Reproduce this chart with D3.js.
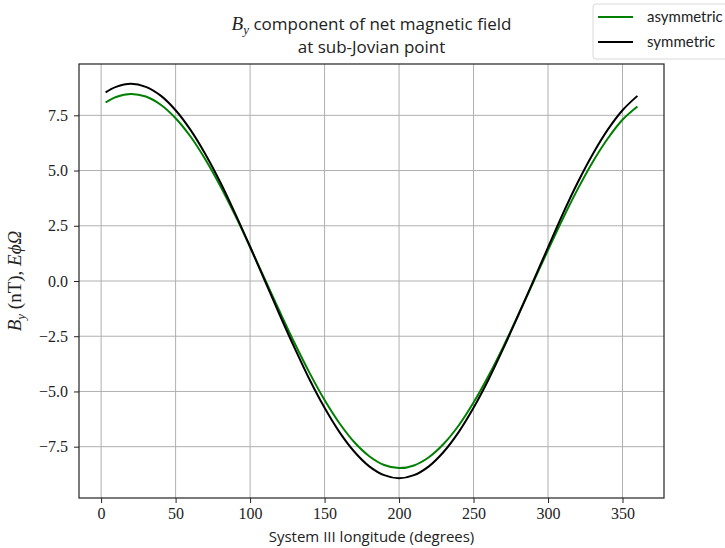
<!DOCTYPE html>
<html><head><meta charset="utf-8">
<script src="https://cdn.jsdelivr.net/npm/d3@7"></script>
<style>body{margin:0;background:#fff}svg{display:block}</style>
</head><body>
<svg id="c" width="725" height="548"></svg>
<script>
const longitudes = [3,10,20,30,40,50,60,70,80,90,100,110,120,130,140,150,160,170,180,190,200,210,220,230,240,250,260,270,280,290,300,310,320,330,340,350,360];
const asymmetric = [8.08,8.33,8.47,8.35,7.98,7.37,6.54,5.50,4.30,2.97,1.54,0.07,-1.40,-2.83,-4.17,-5.39,-6.44,-7.30,-7.93,-8.33,-8.47,-8.35,-7.98,-7.37,-6.54,-5.50,-4.30,-2.97,-1.54,-0.07,1.40,2.83,4.17,5.39,6.44,7.30,7.90];
const symmetric = [8.54,8.79,8.93,8.79,8.39,7.73,6.84,5.74,4.47,3.05,1.55,0.00,-1.55,-3.05,-4.47,-5.74,-6.84,-7.73,-8.39,-8.79,-8.93,-8.79,-8.39,-7.73,-6.84,-5.74,-4.47,-3.05,-1.55,-0.02,1.52,3.05,4.47,5.74,6.84,7.73,8.38];
const xTicks = [0,50,100,150,200,250,300,350];
const yTicks = [-7.5,-5.0,-2.5,0.0,2.5,5.0,7.5];
const seriesNames = ["asymmetric","symmetric"];
const seriesColors = ["#008000","#000000"];

const svg = d3.select("#c");
const L=79, R=664, T=64, B=498;
const xe = d3.extent(longitudes), xp=(xe[1]-xe[0])*0.05;
const ye = d3.extent(asymmetric.concat(symmetric)), yp=(ye[1]-ye[0])*0.05;
const x = d3.scaleLinear().domain([xe[0]-xp, xe[1]+xp]).range([L,R]);
const y = d3.scaleLinear().domain([ye[0]-yp, ye[1]+yp]).range([B,T]);

// grid
const g = svg.append("g");
g.selectAll(".vx").data(xTicks).join("line")
  .attr("x1",d=>x(d)).attr("x2",d=>x(d)).attr("y1",T).attr("y2",B)
  .attr("stroke","#b0b0b0").attr("stroke-width",1);
g.selectAll(".hy").data(yTicks).join("line")
  .attr("y1",d=>y(d)).attr("y2",d=>y(d)).attr("x1",L).attr("x2",R)
  .attr("stroke","#b0b0b0").attr("stroke-width",1);

// lines
const line = d3.line().x((d,i)=>x(longitudes[i])).y(d=>y(d)).curve(d3.curveCatmullRom.alpha(0.5));
[asymmetric, symmetric].forEach((s,k)=>{
  svg.append("path").datum(s).attr("d",line).attr("fill","none")
    .attr("stroke",seriesColors[k]).attr("stroke-width",2);
});

// axes
const fmt = d=> (d<0?"\u2212":"")+Math.abs(d).toFixed(1);
const xa = svg.append("g").attr("transform",`translate(0,${B})`)
  .call(d3.axisBottom(x).tickValues(xTicks).tickSize(5).tickPadding(5).tickFormat(d3.format("d")));
const ya = svg.append("g").attr("transform",`translate(${L},0)`)
  .call(d3.axisLeft(y).tickValues(yTicks).tickSize(5).tickPadding(6).tickFormat(fmt));
[xa,ya].forEach(a=>{
  a.select(".domain").remove();
  a.selectAll(".tick line").attr("stroke","#222").attr("stroke-width",1);
  a.selectAll(".tick text").attr("font-family","'Liberation Serif', 'DejaVu Serif', serif")
    .attr("font-size",16).attr("fill","#222");
});
svg.append("rect").attr("x",L).attr("y",T).attr("width",R-L).attr("height",B-T)
  .attr("fill","none").attr("stroke","#222").attr("stroke-width",1.2);

// title
const cx=(L+R)/2;
const sans = "'Open Sans', Lato, sans-serif";
const t1 = svg.append("text").attr("x",cx).attr("y",30).attr("text-anchor","middle")
  .attr("font-family",sans).attr("font-size",17).attr("fill","#222");
t1.append("tspan").attr("font-family","'Liberation Serif', serif").attr("font-style","italic").attr("font-size",19).text("B");
t1.append("tspan").attr("font-family","'Liberation Serif', serif").attr("font-style","italic").attr("font-size",13).attr("dy",4).text("y");
t1.append("tspan").attr("dy",-4).text(" component of net magnetic field");
svg.append("text").attr("x",cx).attr("y",53).attr("text-anchor","middle")
  .attr("font-family",sans).attr("font-size",17).attr("fill","#222")
  .text("at sub-Jovian point");

// x label
svg.append("text").attr("x",cx).attr("y",542).attr("text-anchor","middle")
  .attr("font-family",sans).attr("font-size",15).attr("fill","#222")
  .text("System III longitude (degrees)");

// y label
const yl = svg.append("text").attr("transform",`translate(21,${(T+B)/2}) rotate(-90)`)
  .attr("text-anchor","middle").attr("font-family","'Liberation Serif', serif").attr("font-size",19).attr("fill","#222");
yl.append("tspan").attr("font-style","italic").text("B");
yl.append("tspan").attr("font-style","italic").attr("font-size",13).attr("dy",4).text("y");
yl.append("tspan").attr("dy",-4).text(" (nT),  ");
yl.append("tspan").attr("font-style","italic").text("E\u03d5\u03a9");

// legend
const lg = svg.append("g");
lg.append("rect").attr("x",593).attr("y",4).attr("width",140).attr("height",55).attr("rx",3)
  .attr("fill","#fff").attr("fill-opacity",0.8).attr("stroke","#d8d8d8").attr("stroke-width",1);
seriesNames.forEach((n,i)=>{
  const yy = 17 + i*25;
  lg.append("line").attr("x1",598).attr("x2",633).attr("y1",yy).attr("y2",yy)
    .attr("stroke",seriesColors[i]).attr("stroke-width",2);
  lg.append("text").attr("x",647).attr("y",yy+5).attr("font-family","Lato, 'Open Sans', sans-serif")
    .attr("font-size",15).attr("fill","#222").text(n);
});
</script>
</body></html>
